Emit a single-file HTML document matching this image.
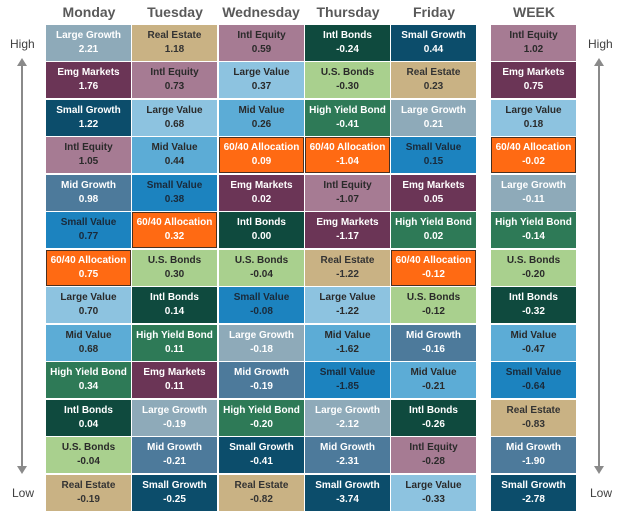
<!DOCTYPE html><html><head><style>
body{margin:0;width:624px;height:514px;background:#fff;position:relative;overflow:hidden;font-family:"Liberation Sans",sans-serif}
.h{position:absolute;top:4px;width:86px;text-align:center;font-size:14px;font-weight:bold;color:#595959}
.c{position:absolute;width:85px;height:36px;box-sizing:border-box;text-align:center;font-size:10px;font-weight:bold;line-height:14px;padding-top:4px;color:#fff}
.lg{background:#8eaab9}.re{background:#c9b284;color:#333}.ie{background:#a67b93;color:#2a2a2a}.em{background:#6b3556}.sg{background:#0c4d6b}.lv{background:#8dc3e0;color:#2a2a2a}.mv{background:#5cacd6;color:#2a2a2a}.mg{background:#4d7a9b}.sv{background:#1c83bf;color:#1a2a3a}.ib{background:#0f4a3e}.us{background:#a9d08e;color:#2a2a2a}.hy{background:#2e7a57}.al{background:#ff6a13;border:1px solid #4a3020;padding-top:3px}
.lab{position:absolute;font-size:12px;color:#404040}
.ln{position:absolute;width:2px;background:#8a8a8a}
</style></head><body>
<div class="h" style="left:46px">Monday</div><div class="h" style="left:132px">Tuesday</div><div class="h" style="left:218px">Wednesday</div><div class="h" style="left:305px">Thursday</div><div class="h" style="left:391px">Friday</div><div class="h" style="left:491px">WEEK</div>
<div class="lab" style="left:10px;top:37px">High</div><div class="lab" style="left:12px;top:486px">Low</div>
<div class="lab" style="left:588px;top:37px">High</div><div class="lab" style="left:590px;top:486px">Low</div>
<div class="ln" style="left:21px;top:62px;height:408px"></div><div class="ln" style="left:598px;top:62px;height:408px"></div>
<svg style="position:absolute;left:0;top:0" width="624" height="514"><polygon points="17,66 22,58 27,66" fill="#8a8a8a"/><polygon points="17,466 22,474 27,466" fill="#8a8a8a"/><polygon points="594,66 599,58 604,66" fill="#8a8a8a"/><polygon points="594,466 599,474 604,466" fill="#8a8a8a"/></svg>

<div class="c lg" style="left:46px;top:25px">Large Growth<br>2.21</div>
<div class="c em" style="left:46px;top:62px">Emg Markets<br>1.76</div>
<div class="c sg" style="left:46px;top:100px">Small Growth<br>1.22</div>
<div class="c ie" style="left:46px;top:137px">Intl Equity<br>1.05</div>
<div class="c mg" style="left:46px;top:175px">Mid Growth<br>0.98</div>
<div class="c sv" style="left:46px;top:212px">Small Value<br>0.77</div>
<div class="c al" style="left:46px;top:250px">60/40 Allocation<br>0.75</div>
<div class="c lv" style="left:46px;top:287px">Large Value<br>0.70</div>
<div class="c mv" style="left:46px;top:325px">Mid Value<br>0.68</div>
<div class="c hy" style="left:46px;top:362px">High Yield Bond<br>0.34</div>
<div class="c ib" style="left:46px;top:400px">Intl Bonds<br>0.04</div>
<div class="c us" style="left:46px;top:437px">U.S. Bonds<br>-0.04</div>
<div class="c re" style="left:46px;top:475px">Real Estate<br>-0.19</div>

<div class="c re" style="left:132px;top:25px">Real Estate<br>1.18</div>
<div class="c ie" style="left:132px;top:62px">Intl Equity<br>0.73</div>
<div class="c lv" style="left:132px;top:100px">Large Value<br>0.68</div>
<div class="c mv" style="left:132px;top:137px">Mid Value<br>0.44</div>
<div class="c sv" style="left:132px;top:175px">Small Value<br>0.38</div>
<div class="c al" style="left:132px;top:212px">60/40 Allocation<br>0.32</div>
<div class="c us" style="left:132px;top:250px">U.S. Bonds<br>0.30</div>
<div class="c ib" style="left:132px;top:287px">Intl Bonds<br>0.14</div>
<div class="c hy" style="left:132px;top:325px">High Yield Bond<br>0.11</div>
<div class="c em" style="left:132px;top:362px">Emg Markets<br>0.11</div>
<div class="c lg" style="left:132px;top:400px">Large Growth<br>-0.19</div>
<div class="c mg" style="left:132px;top:437px">Mid Growth<br>-0.21</div>
<div class="c sg" style="left:132px;top:475px">Small Growth<br>-0.25</div>

<div class="c ie" style="left:219px;top:25px">Intl Equity<br>0.59</div>
<div class="c lv" style="left:219px;top:62px">Large Value<br>0.37</div>
<div class="c mv" style="left:219px;top:100px">Mid Value<br>0.26</div>
<div class="c al" style="left:219px;top:137px">60/40 Allocation<br>0.09</div>
<div class="c em" style="left:219px;top:175px">Emg Markets<br>0.02</div>
<div class="c ib" style="left:219px;top:212px">Intl Bonds<br>0.00</div>
<div class="c us" style="left:219px;top:250px">U.S. Bonds<br>-0.04</div>
<div class="c sv" style="left:219px;top:287px">Small Value<br>-0.08</div>
<div class="c lg" style="left:219px;top:325px">Large Growth<br>-0.18</div>
<div class="c mg" style="left:219px;top:362px">Mid Growth<br>-0.19</div>
<div class="c hy" style="left:219px;top:400px">High Yield Bond<br>-0.20</div>
<div class="c sg" style="left:219px;top:437px">Small Growth<br>-0.41</div>
<div class="c re" style="left:219px;top:475px">Real Estate<br>-0.82</div>

<div class="c ib" style="left:305px;top:25px">Intl Bonds<br>-0.24</div>
<div class="c us" style="left:305px;top:62px">U.S. Bonds<br>-0.30</div>
<div class="c hy" style="left:305px;top:100px">High Yield Bond<br>-0.41</div>
<div class="c al" style="left:305px;top:137px">60/40 Allocation<br>-1.04</div>
<div class="c ie" style="left:305px;top:175px">Intl Equity<br>-1.07</div>
<div class="c em" style="left:305px;top:212px">Emg Markets<br>-1.17</div>
<div class="c re" style="left:305px;top:250px">Real Estate<br>-1.22</div>
<div class="c lv" style="left:305px;top:287px">Large Value<br>-1.22</div>
<div class="c mv" style="left:305px;top:325px">Mid Value<br>-1.62</div>
<div class="c sv" style="left:305px;top:362px">Small Value<br>-1.85</div>
<div class="c lg" style="left:305px;top:400px">Large Growth<br>-2.12</div>
<div class="c mg" style="left:305px;top:437px">Mid Growth<br>-2.31</div>
<div class="c sg" style="left:305px;top:475px">Small Growth<br>-3.74</div>

<div class="c sg" style="left:391px;top:25px">Small Growth<br>0.44</div>
<div class="c re" style="left:391px;top:62px">Real Estate<br>0.23</div>
<div class="c lg" style="left:391px;top:100px">Large Growth<br>0.21</div>
<div class="c sv" style="left:391px;top:137px">Small Value<br>0.15</div>
<div class="c em" style="left:391px;top:175px">Emg Markets<br>0.05</div>
<div class="c hy" style="left:391px;top:212px">High Yield Bond<br>0.02</div>
<div class="c al" style="left:391px;top:250px">60/40 Allocation<br>-0.12</div>
<div class="c us" style="left:391px;top:287px">U.S. Bonds<br>-0.12</div>
<div class="c mg" style="left:391px;top:325px">Mid Growth<br>-0.16</div>
<div class="c mv" style="left:391px;top:362px">Mid Value<br>-0.21</div>
<div class="c ib" style="left:391px;top:400px">Intl Bonds<br>-0.26</div>
<div class="c ie" style="left:391px;top:437px">Intl Equity<br>-0.28</div>
<div class="c lv" style="left:391px;top:475px">Large Value<br>-0.33</div>

<div class="c ie" style="left:491px;top:25px">Intl Equity<br>1.02</div>
<div class="c em" style="left:491px;top:62px">Emg Markets<br>0.75</div>
<div class="c lv" style="left:491px;top:100px">Large Value<br>0.18</div>
<div class="c al" style="left:491px;top:137px">60/40 Allocation<br>-0.02</div>
<div class="c lg" style="left:491px;top:175px">Large Growth<br>-0.11</div>
<div class="c hy" style="left:491px;top:212px">High Yield Bond<br>-0.14</div>
<div class="c us" style="left:491px;top:250px">U.S. Bonds<br>-0.20</div>
<div class="c ib" style="left:491px;top:287px">Intl Bonds<br>-0.32</div>
<div class="c mv" style="left:491px;top:325px">Mid Value<br>-0.47</div>
<div class="c sv" style="left:491px;top:362px">Small Value<br>-0.64</div>
<div class="c re" style="left:491px;top:400px">Real Estate<br>-0.83</div>
<div class="c mg" style="left:491px;top:437px">Mid Growth<br>-1.90</div>
<div class="c sg" style="left:491px;top:475px">Small Growth<br>-2.78</div>
</body></html>
